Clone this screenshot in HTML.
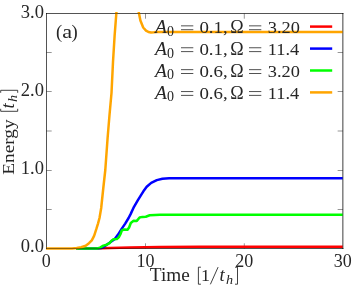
<!DOCTYPE html>
<html><head><meta charset="utf-8">
<style>
html,body{margin:0;padding:0;background:#fff;}
body{width:357px;height:286px;overflow:hidden;position:relative;font-family:"Liberation Serif",serif;}
svg{will-change:transform;position:absolute;left:0;top:0;}
text{font-family:"Liberation Serif",serif;fill:#262626;}
</style></head><body>
<svg width="357" height="286" viewBox="0 0 357 286">
<rect width="357" height="286" fill="#fff"/>
<defs><clipPath id="c"><rect x="46" y="12.1" width="296.75" height="238"/></clipPath></defs>
<!-- ticks + frame (under curves) -->
<g stroke="#000" stroke-width="0.42" fill="none">
<path d="M46.5 52.5h5.2M46.5 91.5h5.2M46.5 131h5.2M46.5 170.5h5.2M46.5 209.5h5.2"/>
<path d="M342.85 52.5h-5.2M342.85 91.5h-5.2M342.85 131h-5.2M342.85 170.5h-5.2M342.85 209.5h-5.2"/>
<path d="M145.5 248.5v-5.2M244.3 248.5v-5.2M145.5 13.5v5.2M244.3 13.5v5.2"/>
</g>
<path d="M46.5 13.5V248.5M46.5 13.5H342.85M46.5 248.5H342.85M342.85 13.5V248.5" stroke="#000" stroke-width="0.75" stroke-opacity="0.6" fill="none" stroke-linecap="square"/>
<g clip-path="url(#c)" fill="none" stroke-width="2.5" stroke-linejoin="round" stroke-linecap="butt">
<path stroke="#ff0000" d="M76 248.6 L95 248.6 L110 248.1 L130 247.5 L160 247 L200 246.8 L343 246.8"/>
<path stroke="#0000ff" d="M76 248.6 L97 248.5 L101 248 L104 246.6 L107.8 244 L111 241.8 L114.6 239.3 L117.9 234.8 L121.8 228.6 L125.2 223.6 L128.6 218 L130.6 214.1 L134 206.8 L137.9 200.1 L141.8 193.9 L143.4 191.3 L146.7 186.8 L151.2 182.9 L156.8 180.1 L162.4 178.7 L169.1 178.3 L343 178.3"/>
<path stroke="#00ff00" d="M76 248.6 L97 248.5 L100 247.6 L103.4 245.6 L106.7 244.7 L109.5 243.2 L111.2 241 L113.4 239.3 L116.8 239.1 L119 237 L120.7 233.7 L121.8 230.5 L124.1 229.4 L127.5 229.8 L129.1 227.5 L130.8 223 L133.6 220.8 L136.8 220.9 L139.6 217.5 L142.5 216.9 L145.8 216.7 L149.7 215.3 L155 214.9 L160 214.8 L343 214.8"/>
<path stroke="#ffa500" d="M46 248.6 L72 248.5 L76.7 247.9 L81.2 247.2 L85.7 245.8 L89 243.2 L91.8 240.4 L94.1 235.9 L96.3 229.2 L98 223.6 L99.5 218 L101.2 208 L103.3 188 L105.3 170 L107.6 138 L109.5 115 L111.5 93 L113 62 L114.6 36 L116.4 12.5 L117 0 L138 0 L138.8 12.5 L140.4 20.5 L143.2 27.5 L146 30.6 L148.5 32 L151 32.5 L154 32.3 L157.2 31.9 L343 31.9"/>
</g>
<!-- frame (faint pass over curves) -->
<path d="M46.5 13.5V248.5M46.5 13.5H342.85M46.5 248.5H342.85M342.85 13.5V248.5" stroke="#000" stroke-width="0.75" stroke-opacity="0.55" fill="none" stroke-linecap="square"/>
<!-- tick labels -->
<text transform="translate(44,17.6) scale(1.03,1.0)" font-size="18" text-anchor="end" >3.0</text>
<text transform="translate(44,95.6) scale(1.03,1.0)" font-size="18" text-anchor="end" >2.0</text>
<text transform="translate(44,174) scale(1.03,1.0)" font-size="18" text-anchor="end" >1.0</text>
<text transform="translate(44,252) scale(1.03,1.0)" font-size="18" text-anchor="end" >0.0</text>
<text transform="translate(46.3,267.1) scale(1.0,1.0)" font-size="18" text-anchor="middle" >0</text>
<text transform="translate(145.4,267.1) scale(1.0,1.0)" font-size="18" text-anchor="middle" >10</text>
<text transform="translate(244.2,267.1) scale(1.0,1.0)" font-size="18" text-anchor="middle" >20</text>
<text transform="translate(342.7,267.2) scale(1.0,1.0)" font-size="18" text-anchor="middle" >30</text>
<text transform="translate(56.1,37.9) scale(1.0,1.065)" font-size="18.6" text-anchor="start" >(</text><text transform="translate(62.15,38.1) scale(1.19,1.0)" font-size="18.6" text-anchor="start" >a</text><text transform="translate(71.55,37.9) scale(1.0,1.065)" font-size="18.6" text-anchor="start" >)</text>
<!-- x label -->
<text transform="translate(149.8,280.9) scale(1.07,1.0)" font-size="18" text-anchor="start" >Time</text>
<g stroke="#111" stroke-width="0.8" fill="none">
<path d="M200.9 267.2H198.4V284.2H200.9"/>
<path d="M235.0 267.2H237.5V284.2H235.0"/>
<path d="M210.4 284.3L218.1 267.1"/>
</g>
<text transform="translate(200.9,280.9) scale(1.0,0.955)" font-size="18" text-anchor="start" >1</text>
<text transform="translate(219.6,280.9) scale(1.0,1.0)" font-size="18.6" text-anchor="start" font-style="italic">t</text>
<text transform="translate(226.0,283.7) scale(1.05,1.0)" font-size="13.5" text-anchor="start" font-style="italic">h</text>
<!-- y label -->
<g transform="translate(14.4,174.2) rotate(-90)">
<text transform="translate(-0.6,0) scale(1.076,0.95)" font-size="18" text-anchor="start" >Energy</text>
<g stroke="#111" stroke-width="0.8" fill="none">
<path d="M65.4 -13.7H62.9V3.3H65.4"/>
<path d="M81.4 -13.7H83.9V3.3H81.4"/>
</g>
<text transform="translate(65.8,0) scale(1.0,1.0)" font-size="18.6" text-anchor="start" font-style="italic">t</text>
<text transform="translate(72.2,2.8) scale(1.05,1.0)" font-size="13.5" text-anchor="start" font-style="italic">h</text>
</g>
<!-- legend -->
<text transform="translate(155.0,32.8) scale(1.05,1.0)" font-size="18.6" text-anchor="start" font-style="italic">A</text><text transform="translate(167.0,35.599999999999994) scale(1.0,1.0)" font-size="14" text-anchor="start" >0</text><path d="M181 25.85h12.3M181 29.70h12.3" stroke="#262626" stroke-width="0.8" fill="none"/><text transform="translate(199.4,32.8) scale(1.05,0.955)" font-size="18" text-anchor="start" >0.1,</text><text transform="translate(230.3,32.8) scale(1.0,1.0)" font-size="18" text-anchor="start" >Ω</text><path d="M249 25.85h12.3M249 29.70h12.3" stroke="#262626" stroke-width="0.8" fill="none"/><text transform="translate(267.8,32.8) scale(1.02,0.955)" font-size="18" text-anchor="start" >3.20</text>
<text transform="translate(155.0,54.7) scale(1.05,1.0)" font-size="18.6" text-anchor="start" font-style="italic">A</text><text transform="translate(167.0,57.5) scale(1.0,1.0)" font-size="14" text-anchor="start" >0</text><path d="M181 47.75h12.3M181 51.60h12.3" stroke="#262626" stroke-width="0.8" fill="none"/><text transform="translate(199.4,54.7) scale(1.05,0.955)" font-size="18" text-anchor="start" >0.1,</text><text transform="translate(230.3,54.7) scale(1.0,1.0)" font-size="18" text-anchor="start" >Ω</text><path d="M249 47.75h12.3M249 51.60h12.3" stroke="#262626" stroke-width="0.8" fill="none"/><text transform="translate(267.8,54.7) scale(1.02,0.955)" font-size="18" text-anchor="start" >11.4</text>
<text transform="translate(155.0,76.6) scale(1.05,1.0)" font-size="18.6" text-anchor="start" font-style="italic">A</text><text transform="translate(167.0,79.39999999999999) scale(1.0,1.0)" font-size="14" text-anchor="start" >0</text><path d="M181 69.65h12.3M181 73.50h12.3" stroke="#262626" stroke-width="0.8" fill="none"/><text transform="translate(199.4,76.6) scale(1.05,0.955)" font-size="18" text-anchor="start" >0.6,</text><text transform="translate(230.3,76.6) scale(1.0,1.0)" font-size="18" text-anchor="start" >Ω</text><path d="M249 69.65h12.3M249 73.50h12.3" stroke="#262626" stroke-width="0.8" fill="none"/><text transform="translate(267.8,76.6) scale(1.02,0.955)" font-size="18" text-anchor="start" >3.20</text>
<text transform="translate(155.0,98.5) scale(1.05,1.0)" font-size="18.6" text-anchor="start" font-style="italic">A</text><text transform="translate(167.0,101.3) scale(1.0,1.0)" font-size="14" text-anchor="start" >0</text><path d="M181 91.55h12.3M181 95.40h12.3" stroke="#262626" stroke-width="0.8" fill="none"/><text transform="translate(199.4,98.5) scale(1.05,0.955)" font-size="18" text-anchor="start" >0.6,</text><text transform="translate(230.3,98.5) scale(1.0,1.0)" font-size="18" text-anchor="start" >Ω</text><path d="M249 91.55h12.3M249 95.40h12.3" stroke="#262626" stroke-width="0.8" fill="none"/><text transform="translate(267.8,98.5) scale(1.02,0.955)" font-size="18" text-anchor="start" >11.4</text>

<g stroke-width="2.5" fill="none">
<path stroke="#ff0000" d="M310 26.6h22.2"/>
<path stroke="#0000ff" d="M310 48.6h22.2"/>
<path stroke="#00ff00" d="M310 70.5h22.2"/>
<path stroke="#ffa500" d="M310 92.4h22.2"/>
</g>
</svg>
</body></html>
